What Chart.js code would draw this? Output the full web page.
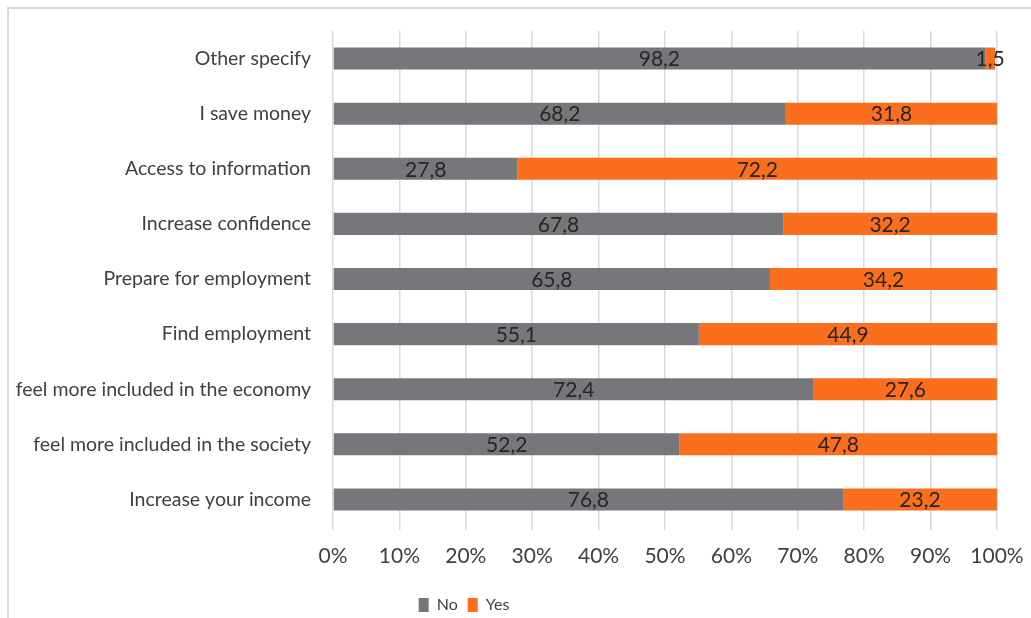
<!DOCTYPE html>
<html>
<head>
<meta charset="utf-8">
<script src="https://cdn.jsdelivr.net/npm/chart.js@4/dist/chart.umd.min.js"></script>
<style>
  html, body { margin: 0; padding: 0; background: #fff; }
  #wrap { width: 1031px; height: 618px; position: relative; }
</style>
</head>
<body>
<div id="wrap"><canvas id="c" width="1031" height="618"></canvas></div>
<script>
const categories = [
  "Other specify",
  "I save money",
  "Access to information",
  "Increase confidence",
  "Prepare for employment",
  "Find employment",
  "feel more included in the economy",
  "feel more included in the society",
  "Increase your income"
];
const noValues  = [98.2, 68.2, 27.8, 67.8, 65.8, 55.1, 72.4, 52.2, 76.8];
const yesValues = [1.5, 31.8, 72.2, 32.2, 34.2, 44.9, 27.6, 47.8, 23.2];
const tickValues = [0, 10, 20, 30, 40, 50, 60, 70, 80, 90, 100];

const FONT = "Lato, 'Open Sans', sans-serif";
const TEXT = "#404040";
const LEGEND_CENTER_X = 464;
const LEGEND_CENTER_Y = 605;

const borderPlugin = {
  id: "outerBorder",
  beforeDraw(chart) {
    const ctx = chart.ctx;
    ctx.save();
    ctx.fillStyle = "#ffffff";
    ctx.fillRect(0, 0, chart.width, chart.height);
    ctx.strokeStyle = "#d9d9d9";
    ctx.lineWidth = 2;
    ctx.strokeRect(8, 8, chart.width + 20, chart.height + 20);
    ctx.restore();
  }
};

const legendShift = {
  id: "legendShift",
  afterLayout(chart) {
    const lg = chart.legend;
    if (!lg) return;
    const dx = LEGEND_CENTER_X - (lg.left + lg.right) / 2;
    lg.left += dx; lg.right += dx;
    const dy = LEGEND_CENTER_Y - (lg.top + lg.bottom) / 2;
    lg.top += dy; lg.bottom += dy;
  }
};

const labelPlugin = {
  id: "segLabels",
  afterDatasetsDraw(chart) {
    const ctx = chart.ctx;
    ctx.save();
    ctx.font = "21px " + FONT;
    ctx.fillStyle = "#262626";
    ctx.textAlign = "center";
    ctx.textBaseline = "middle";
    chart.data.datasets.forEach((ds, di) => {
      const meta = chart.getDatasetMeta(di);
      meta.data.forEach((bar, i) => {
        const v = ds.data[i];
        const x = (bar.x + bar.base) / 2;
        ctx.fillText(v.toFixed(1).replace(".", ","), x, bar.y + 1);
      });
    });
    ctx.restore();
  }
};

new Chart(document.getElementById("c"), {
  type: "bar",
  data: {
    labels: categories,
    datasets: [
      { label: "No", data: noValues, backgroundColor: "#77777b", borderWidth: 0 },
      { label: "Yes", data: yesValues, backgroundColor: "#fa6e1e", borderWidth: 0 }
    ]
  },
  options: {
    indexAxis: "y",
    responsive: false,
    animation: false,
    devicePixelRatio: 1,
    layout: { padding: { left: 0, right: 34, top: 31, bottom: 0 } },
    datasets: { bar: { categoryPercentage: 1, barPercentage: 0.4 } },
    plugins: {
      legend: {
        position: "bottom",
        labels: {
          boxWidth: 10, boxHeight: 14, padding: 10,
          color: TEXT, font: { family: FONT, size: 16 }
        }
      },
      tooltip: { enabled: false }
    },
    scales: {
      x: {
        stacked: true,
        min: 0, max: 100,
        afterBuildTicks(scale) { scale.ticks = tickValues.map(v => ({ value: v })); },
        grid: { color: "#d9d9d9", lineWidth: 1.5, drawTicks: true, tickLength: 3 },
        border: { display: false },
        ticks: {
          padding: 14,
          color: TEXT,
          font: { family: FONT, size: 21 },
          callback: v => v + "%"
        },
        afterFit(scale) { scale.height = 55; scale.paddingRight = 0; scale.paddingLeft = 0; }
      },
      y: {
        stacked: true,
        grid: { display: false, drawTicks: false },
        border: { display: false },
        ticks: { padding: 22, color: TEXT, font: { family: FONT, size: 19.5 } },
        afterFit(scale) { scale.width = 333; scale.paddingTop = 0; scale.paddingBottom = 0; }
      }
    }
  },
  plugins: [borderPlugin, legendShift, labelPlugin]
});
</script>
</body>
</html>
